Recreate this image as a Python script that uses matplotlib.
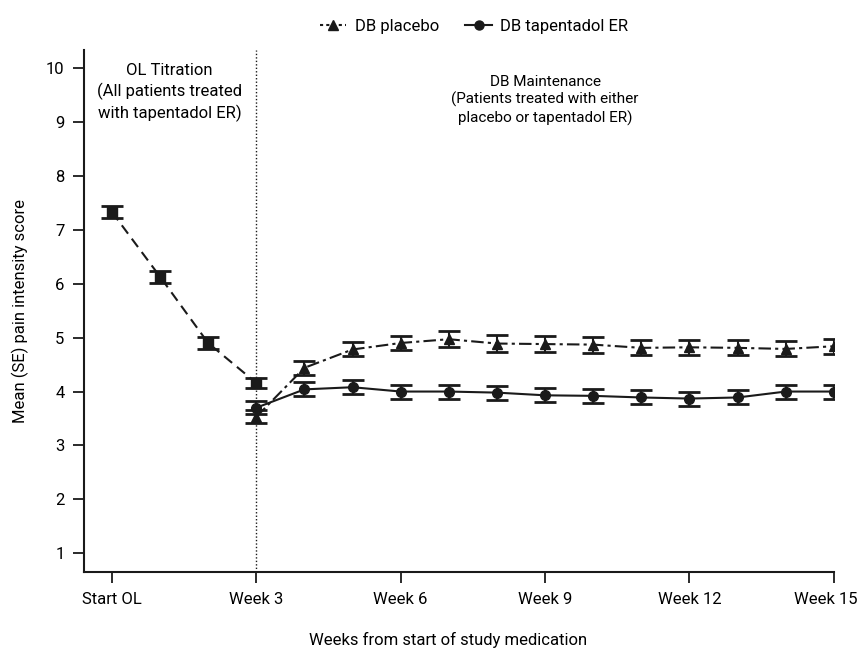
import matplotlib
matplotlib.use('Agg')
import matplotlib.pyplot as plt
import matplotlib.transforms as mtransforms
from matplotlib.lines import Line2D

plt.rcParams['font.family'] = ['Liberation Sans Narrow', 'Roboto', 'DejaVu Sans']

# open-label titration (all patients)
ol_weeks = [0, 1, 2, 3]
ol_mean = [7.33, 6.13, 4.90, 4.16]
ol_se = [0.11, 0.11, 0.11, 0.10]

# double-blind maintenance
db_weeks = [3, 4, 5, 6, 7, 8, 9, 10, 11, 12, 13, 14, 15]
placebo_mean = [3.53, 4.44, 4.78, 4.90, 4.97, 4.89, 4.88, 4.87, 4.81, 4.82, 4.81, 4.79, 4.84]
placebo_se = [0.12, 0.13, 0.13, 0.13, 0.15, 0.15, 0.15, 0.15, 0.14, 0.14, 0.14, 0.14, 0.14]
tap_mean = [3.70, 4.04, 4.08, 4.00, 4.00, 3.98, 3.93, 3.92, 3.89, 3.87, 3.89, 4.00, 4.00]
tap_se = [0.12, 0.13, 0.13, 0.13, 0.13, 0.13, 0.13, 0.13, 0.13, 0.13, 0.13, 0.13, 0.13]

tick_pos = [0, 3, 6, 9, 12, 15]
tick_labels = ['Start OL', 'Week 3', 'Week 6', 'Week 9', 'Week 12', 'Week 15']

fig = plt.figure(figsize=(8.62, 6.51), dpi=100)
ax = fig.add_axes([0.0974, 0.121, 0.870, 0.802])

eb = dict(ecolor='#1a1a1a', elinewidth=1.5, capsize=8, capthick=2)

ax.errorbar(ol_weeks, ol_mean, yerr=ol_se, color='#1a1a1a', lw=1.5,
            ls=(0, (5, 3)), marker='s', ms=6.5, **eb)
ax.errorbar(db_weeks, placebo_mean, yerr=placebo_se, color='#1a1a1a', lw=1.5,
            ls=(0, (6, 2, 1.5, 2)), marker='^', ms=7.5, **eb)
ax.errorbar(db_weeks, tap_mean, yerr=tap_se, color='#1a1a1a', lw=1.5,
            ls='-', marker='o', ms=7, **eb)

ax.axvline(3, color='#1a1a1a', lw=1, ls=(0, (1, 1.5)), zorder=0)

ax.set_xlim(-0.58, 15)
ax.set_ylim(0.65, 10.33)
ax.set_xticks(tick_pos)
ax.set_xticklabels(tick_labels)
ax.set_yticks(range(1, 11))
for s in ['top', 'right']:
    ax.spines[s].set_visible(False)
for s in ['left', 'bottom']:
    ax.spines[s].set_linewidth(1.5)
    ax.spines[s].set_color('#1a1a1a')
ax.tick_params(direction='out', length=8, width=1.3, labelsize=12, pad=6, color='#1a1a1a')

# last label sits on the figure edge, nudge it in so it isn't clipped
last = ax.get_xticklabels()[-1]
last.set_transform(last.get_transform() +
                   mtransforms.ScaledTranslation(-6 / 72, 0, fig.dpi_scale_trans))

ax.text(1.2, 10.09, 'OL Titration\n(All patients treated\nwith tapentadol ER)',
        ha='center', va='top', fontsize=12, linespacing=1.35)
ax.text(9, 9.87, 'DB Maintenance\n(Patients treated with either\nplacebo or tapentadol ER)',
        ha='center', va='top', fontsize=11, linespacing=1.25)

ax.set_ylabel('Mean (SE) pain intensity score', fontsize=12, labelpad=12)
fig.text(0.52, 0.017, 'Weeks from start of study medication', ha='center', va='center', fontsize=12)

handles = [
    Line2D([], [], color='#1a1a1a', lw=1.5, ls=(0, (1.5, 1.5)), marker='^', ms=7),
    Line2D([], [], color='#1a1a1a', lw=1.5, ls='-', marker='o', ms=6.5),
]
fig.legend(handles, ['DB placebo', 'DB tapentadol ER'], loc='center', ncol=2,
           bbox_to_anchor=(0.55, 0.96), frameon=False, fontsize=12,
           handlelength=1.6, columnspacing=1.6, handletextpad=0.5)

fig.savefig('out.png', dpi=100)
